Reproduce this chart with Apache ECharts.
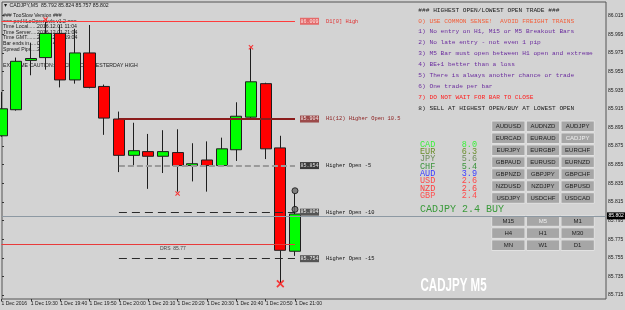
<!DOCTYPE html>
<html>
<head>
<meta charset="utf-8">
<script src="https://cdn.jsdelivr.net/npm/echarts@6/dist/echarts.min.js"></script>
<style>
  html, body { margin: 0; padding: 0; background: #d3d3d3; }
  #chart { width: 625px; height: 310px; }
</style>
</head>
<body>
<div id="chart"></div>
<script>
// M5 bars, 1 Dec 2016 (last 21 slots are the empty chart shift)
const times = [
  '19:20', '19:25', '19:30', '19:35', '19:40', '19:45', '19:50', '19:55',
  '20:00', '20:05', '20:10', '20:15', '20:20', '20:25', '20:30', '20:35',
  '20:40', '20:45', '20:50', '20:55', '21:00',
  '21:05', '21:10', '21:15', '21:20', '21:25', '21:30', '21:35', '21:40',
  '21:45', '21:50', '21:55', '22:00', '22:05', '22:10', '22:15', '22:20',
  '22:25', '22:30', '22:35', '22:40', '22:45'
]
const opens = [85.886, 85.914, 85.967, 85.970, 85.996, 85.946, 85.975, 85.939, 85.904, 85.865, 85.869,
  85.864, 85.868, 85.854, 85.860, 85.854, 85.871, 85.906, 85.942, 85.873, 85.762]
const closes = [85.915, 85.966, 85.969, 85.996, 85.946, 85.975, 85.938, 85.905, 85.865, 85.870, 85.864,
  85.869, 85.854, 85.856, 85.854, 85.872, 85.907, 85.944, 85.872, 85.763, 85.802]
const lows = [85.885, 85.913, 85.951, 85.957, 85.938, 85.942, 85.937, 85.887, 85.847, 85.854, 85.829,
  85.846, 85.826, 85.837, 85.826, 85.854, 85.859, 85.903, 85.861, 85.728, 85.757]
const highs = [85.933, 85.970, 85.986, 86.009, 86.005, 86.001, 86.005, 85.941, 85.912, 85.900, 85.888,
  85.892, 85.893, 85.878, 85.880, 85.884, 85.922, 85.980, 85.943, 85.886, 85.824]

const yTicks = [86.015, 85.995, 85.975, 85.955, 85.935, 85.915, 85.895, 85.875,
  85.855, 85.835, 85.815, 85.795, 85.775, 85.755, 85.735, 85.715]
const bid = 85.802

// open levels drawn from the H1 bar
const levelNames = ['D1[0] High', 'H1(12) Higher Open 10.5', 'Higher Open -5', 'Higher Open -10', 'Higher Open -15']
const levelValues = [86.009, 85.904, 85.854, 85.804, 85.754]
const levelStart = [0, 8, 8, 8, 8]
const drsValue = 85.769

const smallX = [[3, 86.011], [12, 85.824], [17, 85.981]]
const bigX = [[19, 85.727]]
const dots = [[20, 85.827], [20, 85.807]]

const infoKeys = ['Time Local.........', 'Time Server........', 'Time GMT...........', 'Bar ends in........', 'Spread Pips........']
const infoVals = ['2016.12.01 11:04', '2016.12.01 21:04', '2016.12.01 19:04', '0h 0m 42s', '3.0']

const rules = [
  '### HIGHEST OPEN/LOWEST OPEN TRADE ###',
  '0) USE COMMON SENSE!  AVOID FREIGHT TRAINS',
  '1) No entry on H1, M15 or M5 Breakout Bars',
  '2) No late entry - not even 1 pip',
  '3) M5 Bar must open between H1 open and extreme',
  '4) BE+1 better than a loss',
  '5) There is always another chance or trade',
  '6) One trade per bar',
  '7) DO NOT WAIT FOR BAR TO CLOSE',
  '8) SELL AT HIGHEST OPEN/BUY AT LOWEST OPEN'
]
const currencies = ['CAD', 'EUR', 'JPY', 'CHF', 'AUD', 'USD', 'NZD', 'GBP']
const strength = [8.0, 6.3, 5.6, 5.4, 3.9, 2.6, 2.6, 2.4]
const pairs = ['AUDUSD', 'AUDNZD', 'AUDJPY', 'EURCAD', 'EURAUD', 'CADJPY', 'EURJPY', 'EURGBP', 'EURCHF',
  'GBPAUD', 'EURUSD', 'EURNZD', 'GBPNZD', 'GBPJPY', 'GBPCHF', 'NZDUSD', 'NZDJPY', 'GBPUSD',
  'USDJPY', 'USDCHF', 'USDCAD']
const timeframes = ['M15', 'M5', 'M1', 'H4', 'H1', 'M30', 'MN', 'W1', 'D1']

const Y_MIN = 85.7107
const Y_MAX = 86.0297
const SANS = 'Liberation Sans'
const MONO = 'Liberation Mono'
const lastBar = 20

const levelStyle = [
  { line: { color: '#ff3b3b', width: 1, type: 'solid' }, box: '#e46a6a', boxText: '#ffe6e6', text: '#e03030' },
  { line: { color: '#8b1c1c', width: 2, type: 'solid' }, box: '#9c4a4a', boxText: '#f4e4e4', text: '#8b1c1c' },
  { line: { color: '#9a9a9a', width: 2, type: [6, 3] }, box: '#3a3a3a', boxText: '#e0e0e0', text: '#111' },
  { line: { color: '#2a2a2a', width: 1, type: [8, 5] }, box: '#555', boxText: '#eee', text: '#111' },
  { line: { color: '#2a2a2a', width: 1, type: [8, 5] }, box: '#555', boxText: '#eee', text: '#111' }
]

const levelLines = levelValues.map((v, i) => [
  {
    coord: [times[levelStart[i]], v],
    lineStyle: levelStyle[i].line,
    label: {
      show: true,
      position: 'end',
      distance: 5,
      formatter: '{b|' + v.toFixed(3) + '}{t|' + levelNames[i] + '}',
      rich: {
        b: { backgroundColor: levelStyle[i].box, color: levelStyle[i].boxText, fontSize: 5, fontFamily: MONO, padding: [1, 0.5] },
        t: { color: levelStyle[i].text, fontSize: 5.4, fontFamily: MONO, padding: [0, 0, 0, 7] }
      }
    }
  },
  { coord: [times[lastBar], v] }
])
levelLines.push([
  { coord: [times[0], drsValue], lineStyle: { color: '#e83a3a', width: 1, type: 'solid' }, label: { show: false } },
  { coord: [times[lastBar], drsValue] }
])

const xPath = 'path://M0,1.5L1.5,0L5,3.5L8.5,0L10,1.5L6.5,5L10,8.5L8.5,10L5,6.5L1.5,10L0,8.5L3.5,5Z'

// texts and buttons
const graphic = []
const txt = (x, y, text, color, size, family, extra) => graphic.push(Object.assign({
  type: 'text', x: x, y: y, silent: true,
  style: { text: text, fill: color, fontSize: size, fontFamily: family, verticalAlign: 'middle' }
}, extra || {}))

txt(3, 5.5, '\u25BC CADJPY,M5  85.792 85.824 85.757 85.802', '#1a1a1a', 5.2, SANS)
txt(3, 15.7, '### TooSlow Version ###', '#1a1a1a', 5.2, SANS)
txt(3, 21.2, '=== pmHiLoOpen Lvls v1.2 ===', '#1a1a1a', 5.2, SANS)
infoKeys.forEach((k, i) => {
  txt(3, 26.8 + i * 5.6, k, '#1a1a1a', 5.2, SANS)
  txt(37, 26.8 + i * 5.6, infoVals[i], '#1a1a1a', 5.2, SANS)
})
txt(3, 65.3, 'EXTREME CAUTION: PRICE ABOVE YESTERDAY HIGH', '#1a1a1a', 5.2, SANS)

const ruleColors = ['#1a1a1a', '#f2603c', '#6a2c9e', '#6a2c9e', '#6a2c9e', '#6a2c9e', '#6a2c9e', '#6a2c9e', '#ff1e1e', '#1a1a1a']
rules.forEach((r, i) => txt(418.3, 10 + i * 10.9, r, ruleColors[i], 6.2, MONO))

const curColors = ['#3cf03c', '#6b8e2a', '#6e8e5a', '#3a943a', '#3a3aff', '#ff4848', '#ff4040', '#ff5050']
currencies.forEach((c, i) => {
  txt(420, 144.3 + i * 7.35, c, curColors[i], 8.5, MONO)
  txt(461.7, 144.3 + i * 7.35, strength[i].toFixed(1), curColors[i], 8.5, MONO)
})
txt(420, 209.3, 'CADJPY 2.4 BUY', '#3a9a3a', 10, MONO)

const button = (label, col, top, selected) => {
  const x = 491.7 + col * 34.65
  graphic.push({
    type: 'rect', silent: true,
    shape: { x: x, y: top, width: 33.3, height: 10.6 },
    style: { fill: '#a6a6a6', stroke: '#e2e2e2', lineWidth: 1 }
  })
  txt(x + 16.6, top + 5.4, label, selected ? '#eeeeee' : '#1e1e1e', 6, SANS,
    { style: { text: label, fill: selected ? '#eeeeee' : '#1e1e1e', fontSize: 6, fontFamily: SANS, align: 'center', verticalAlign: 'middle' } })
}
pairs.forEach((p, i) => button(p, i % 3, 121 + Math.floor(i / 3) * 11.95, p === 'CADJPY'))
timeframes.forEach((t, i) => button(t, i % 3, 215.7 + Math.floor(i / 3) * 12.1, t === 'M5'))

graphic.push({
  type: 'text', x: 420.5, y: 286.5, scaleX: 0.66, silent: true,
  style: { text: 'CADJPY M5', fill: '#ffffff', fontSize: 17.5, fontWeight: 'bold', fontFamily: SANS, verticalAlign: 'middle' }
})

const chart = echarts.init(document.getElementById('chart'))
const option = {
  backgroundColor: '#d3d3d3',
  animation: false,
  grid: [
    { left: -5.84, top: 2, width: 616.35, bottom: 11, outerBoundsMode: 'none' },
    { left: 2, top: 2, right: 19, bottom: 11, outerBoundsMode: 'none', show: true, borderColor: '#555', borderWidth: 1, backgroundColor: 'transparent' }
  ],
  xAxis: [
    {
      gridIndex: 0,
      type: 'category',
      data: times,
      boundaryGap: true,
      axisLine: { show: false },
      axisTick: {
        show: true,
        alignWithLabel: true,
        length: 2.5,
        interval: (i) => i % 2 === 0 && i <= lastBar,
        lineStyle: { color: '#333' }
      },
      axisLabel: {
        interval: (i) => i % 2 === 0 && i <= lastBar,
        align: 'left',
        margin: 2.5,
        fontSize: 5,
        fontFamily: SANS,
        color: '#1a1a1a',
        formatter(value, index) {
          return index === 0 ? '1 Dec 2016' : '1 Dec ' + value
        }
      },
      splitLine: { show: false }
    },
    { gridIndex: 1, type: 'value', min: 0, max: 1, show: false }
  ],
  yAxis: [
    { gridIndex: 0, type: 'value', min: Y_MIN, max: Y_MAX, show: false },
    {
      gridIndex: 1,
      type: 'value',
      position: 'right',
      min: Y_MIN,
      max: Y_MAX,
      splitLine: { show: false },
      axisLine: { show: false },
      axisTick: { show: true, customValues: yTicks, length: 2, lineStyle: { color: '#333' } },
      axisLabel: {
        customValues: yTicks,
        margin: 2,
        fontSize: 5,
        fontFamily: SANS,
        color: '#1a1a1a',
        formatter: (v) => v.toFixed(3)
      }
    }
  ],
  series: [
    {
      name: 'levels',
      type: 'line',
      xAxisIndex: 0,
      yAxisIndex: 0,
      z: 1,
      data: [],
      markLine: { symbol: ['none', 'none'], silent: true, animation: false, data: levelLines }
    },
    {
      name: 'bid',
      type: 'line',
      xAxisIndex: 1,
      yAxisIndex: 1,
      z: 1,
      data: [],
      markLine: {
        symbol: ['none', 'none'],
        silent: true,
        animation: false,
        data: [{
          yAxis: bid,
          lineStyle: { color: '#8d99a3', width: 1, type: 'solid' },
          label: {
            show: true, position: 'end', distance: 1, formatter: bid.toFixed(3),
            backgroundColor: '#000', color: '#fff', fontSize: 5, fontFamily: SANS, padding: [1, 1.5]
          }
        }]
      }
    },
    {
      name: 'CADJPY',
      type: 'candlestick',
      xAxisIndex: 0,
      yAxisIndex: 0,
      z: 3,
      barWidth: 11.6,
      data: opens.map((o, i) => [o, closes[i], lows[i], highs[i]]),
      itemStyle: {
        color: '#00ff00',
        color0: '#ff0000',
        borderColor: '#1e1e1e',
        borderColor0: '#1e1e1e',
        borderWidth: 1
      }
    },
    {
      name: 'drs',
      type: 'scatter',
      xAxisIndex: 0,
      yAxisIndex: 0,
      z: 4,
      symbolSize: 0,
      data: [[times[11], drsValue]],
      label: { show: true, position: [-3, 1.5], formatter: 'DRS  85.77', fontSize: 5, fontFamily: SANS, color: '#222' }
    },
    {
      name: 'xmarks',
      type: 'scatter',
      xAxisIndex: 0,
      yAxisIndex: 0,
      z: 5,
      symbol: xPath,
      symbolSize: 5,
      itemStyle: { color: '#ff1010' },
      data: smallX.map(p => [times[p[0]], p[1]])
    },
    {
      name: 'bigx',
      type: 'scatter',
      xAxisIndex: 0,
      yAxisIndex: 0,
      z: 5,
      symbol: xPath,
      symbolSize: 8,
      itemStyle: { color: '#ff1010' },
      data: bigX.map(p => [times[p[0]], p[1]])
    },
    {
      name: 'dots',
      type: 'scatter',
      xAxisIndex: 0,
      yAxisIndex: 0,
      z: 5,
      symbol: 'circle',
      symbolSize: 6,
      itemStyle: { color: '#6a6a6a', borderColor: '#111', borderWidth: 1 },
      data: dots.map(p => [times[p[0]], p[1]])
    }
  ],
  graphic: graphic
}
chart.setOption(option)
</script>
</body>
</html>
